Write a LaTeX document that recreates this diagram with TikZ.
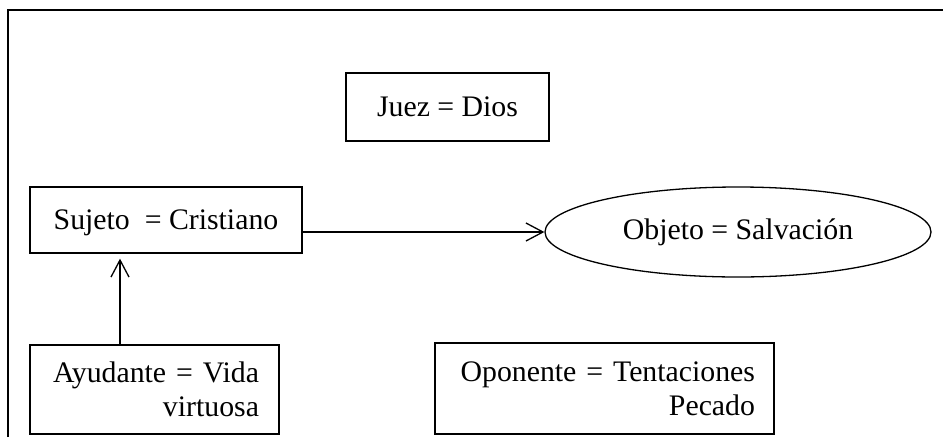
\documentclass[tikz,border=0pt]{standalone}
\usepackage{fontspec}
\setmainfont{Liberation Serif}
\usetikzlibrary{arrows.meta,shapes.geometric}
\begin{document}
\begin{tikzpicture}[x=1pt,y=-1pt,
  font=\fontsize{29.8}{34}\selectfont,
  box/.style={draw,line width=1.3pt,inner sep=0pt},
  link/.style={line width=1.3pt,-{Straight Barb[length=17pt,width=18pt,line width=1.3pt]}}]
\useasboundingbox (0,0) rectangle (943,437);
% open frame: left and top edges only
\draw[line width=2pt] (8,437) -- (8,10) -- (943,10);

\node[box,minimum width=203pt,minimum height=68pt] (juez) at (447.5,107) {Juez = Dios};
\node[box,minimum width=272pt,minimum height=66pt,
      text height=22pt,text depth=4pt] (sujeto) at (166,220) {Sujeto\ \ = Cristiano};
\node[box,ellipse,minimum width=386pt,minimum height=90pt] (objeto) at (738,232) {Objeto = Salvación};
\node[box,minimum width=249pt,minimum height=89pt,text width=209pt,inner xsep=20pt,align=right] (ayudante) at (154.5,389.5) {Ayudante = Vida\\virtuosa};
\node[box,minimum width=339pt,minimum height=91pt,text width=301pt,inner xsep=19pt,align=right] (oponente) at (604.5,388.5) {Oponente = Tentaciones\\Pecado};

\coordinate (upx) at (120,0);
\draw[link] (sujeto.east |- objeto.west) -- (objeto.west);
\draw[link] (ayudante.north -| upx) -- ([yshift=-5pt]sujeto.south -| upx);
\end{tikzpicture}
\end{document}
